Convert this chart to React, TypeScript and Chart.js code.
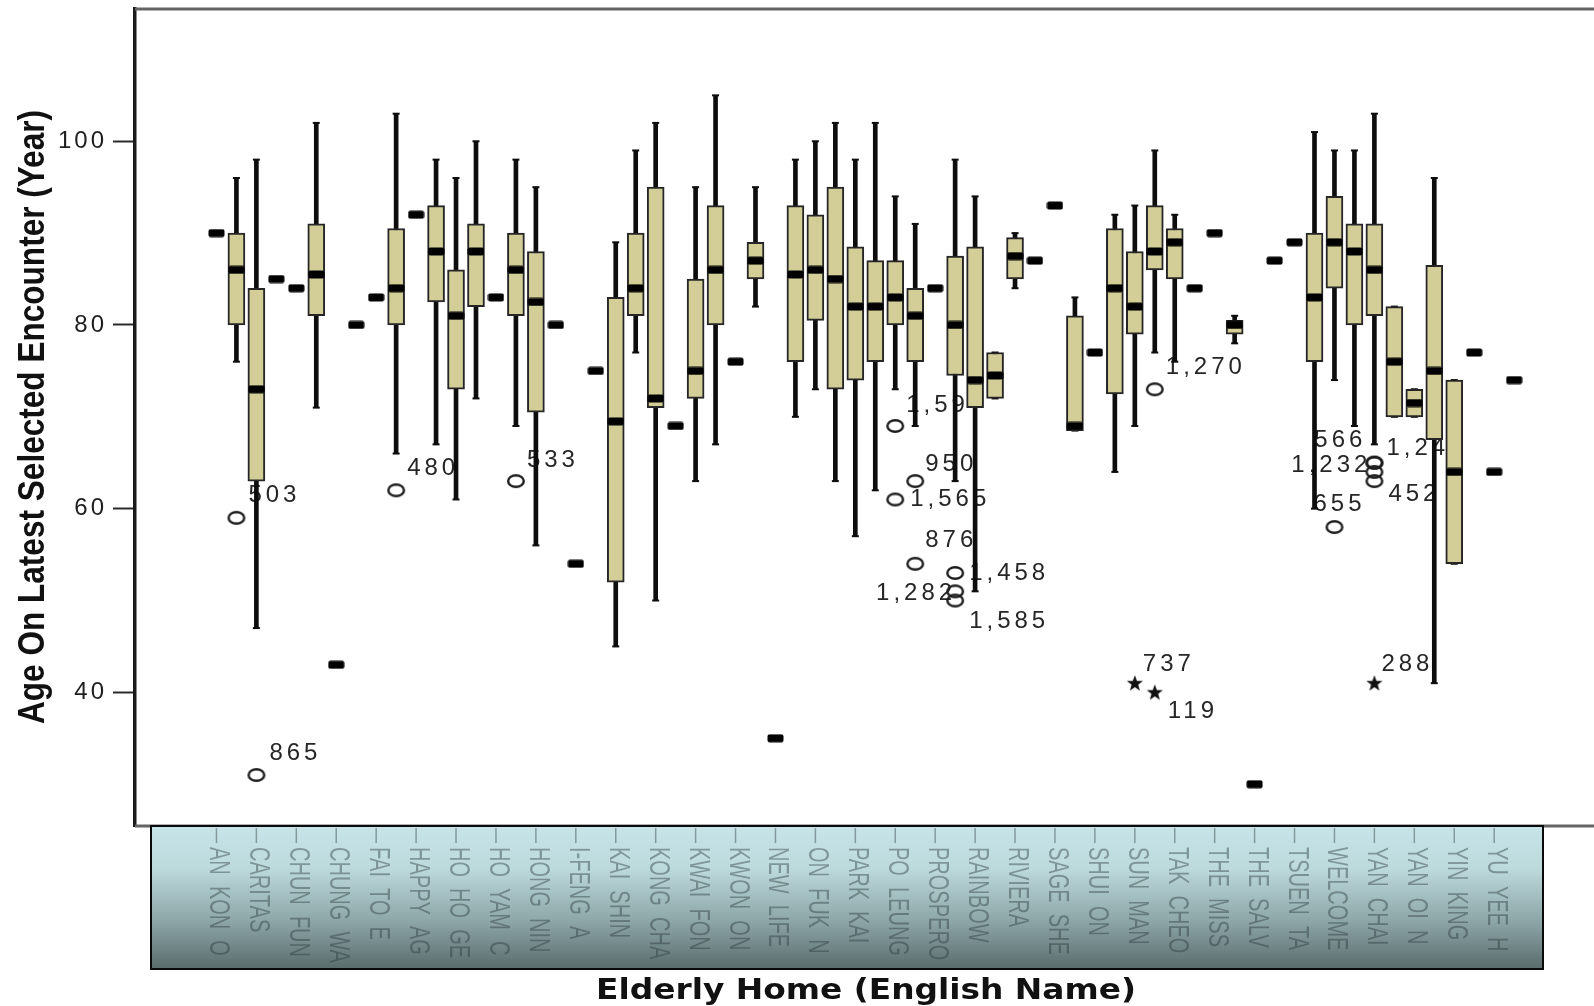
import { useEffect, useRef } from "react";
import { Chart, registerables } from "chart.js";

Chart.register(...registerables);

// 66 elderly homes; the source prints only every other name on the axis (unprinted names left blank)
const homeNames: string[] = [
  "AN KON O", "", "CARITAS", "", "CHUN FUN", "", "CHUNG WA", "", "FAI TO E", "",
  "HAPPY AG", "", "HO HO GE", "", "HO YAM C", "", "HONG NIN", "", "I-FENG A", "",
  "KAI SHIN", "", "KONG CHA", "", "KWAI FON", "", "KWON ON", "", "NEW LIFE", "",
  "ON FUK N", "", "PARK KAI", "", "PO LEUNG", "", "PROSPERO", "", "RAINBOW", "",
  "RIVIERA", "", "SAGE SHE", "", "SHUI ON", "", "SUN MAN", "", "TAK CHEO", "",
  "THE MISS", "", "THE SALV", "", "TSUEN TA", "", "WELCOME", "", "YAN CHAI", "",
  "YAN OI N", "", "YIN KING", "", "YU YEE H", "",
];

const whiskerLow: number[] = [
  90, 76, 47, 85, 84, 71, 43, 80, 83, 66,
  92, 67, 61, 72, 83, 69, 56, 80, 54, 75,
  45, 77, 50, 69, 63, 67, 76, 82, 35, 70,
  73, 63, 57, 62, 73, 69, 84, 63, 51, 72,
  84, 87, 93, 68.5, 77, 64, 69, 77, 76, 84,
  90, 78, 30, 87, 89, 60, 74, 69, 67, 70,
  70, 41, 54, 77, 64, 74,
];
const quartile1: number[] = [
  90, 80, 63, 85, 84, 81, 43, 80, 83, 80,
  92, 82.5, 73, 82, 83, 81, 70.5, 80, 54, 75,
  52, 81, 71, 69, 72, 80, 76, 85, 35, 76,
  80.5, 73, 74, 76, 80, 76, 84, 74.5, 71, 72,
  85, 87, 93, 68.5, 77, 72.5, 79, 86, 85, 84,
  90, 79, 30, 87, 89, 76, 84, 80, 81, 70,
  70, 67.5, 54, 77, 64, 74,
];
const medians: number[] = [
  90, 86, 73, 85, 84, 85.5, 43, 80, 83, 84,
  92, 88, 81, 88, 83, 86, 82.5, 80, 54, 75,
  69.5, 84, 72, 69, 75, 86, 76, 87, 35, 85.5,
  86, 85, 82, 82, 83, 81, 84, 80, 74, 74.5,
  87.5, 87, 93, 69, 77, 84, 82, 88, 89, 84,
  90, 80, 30, 87, 89, 83, 89, 88, 86, 76,
  71.5, 75, 64, 77, 64, 74,
];
const quartile3: number[] = [
  90, 90, 84, 85, 84, 91, 43, 80, 83, 90.5,
  92, 93, 86, 91, 83, 90, 88, 80, 54, 75,
  83, 90, 95, 69, 85, 93, 76, 89, 35, 93,
  92, 95, 88.5, 87, 87, 84, 84, 87.5, 88.5, 77,
  89.5, 87, 93, 81, 77, 90.5, 88, 93, 90.5, 84,
  90, 80.5, 30, 87, 89, 90, 94, 91, 91, 82,
  73, 86.5, 74, 77, 64, 74,
];
const whiskerHigh: number[] = [
  90, 96, 98, 85, 84, 102, 43, 80, 83, 103,
  92, 98, 96, 100, 83, 98, 95, 80, 54, 75,
  89, 99, 102, 69, 95, 105, 76, 95, 35, 98,
  100, 102, 98, 102, 94, 91, 84, 98, 94, 77,
  90, 87, 93, 83, 77, 92, 93, 99, 92, 84,
  90, 81, 30, 87, 89, 101, 99, 99, 103, 82,
  73, 96, 74, 77, 64, 74,
];

// outliers (circles) and extremes (stars): home index, age, case label
const outlierHome: number[] = [1, 2, 9, 15, 34, 34, 35, 35, 37, 37, 37, 47, 56, 58, 58, 58, 58];
const outlierAge: number[] = [59, 31, 62, 63, 69, 61, 63, 54, 53, 51, 50, 73, 58, 65, 65, 64, 63];
const outlierCase: string[] = ["503", "865", "480", "533", "1,597", "1,565", "950", "876", "1,458", "1,282", "1,585", "1,270", "655", "566", "1,246", "1,232", "452"];

const extremeHome: number[] = [46, 47, 58];
const extremeAge: number[] = [41, 40, 41];
const extremeCase: string[] = ["737", "119", "288"];

const yTickValues: number[] = [40, 60, 80, 100];

const xTitle = "Elderly Home (English Name)";
const yTitle = "Age On Latest Selected Encounter (Year)";

// label placement (style only): pixel offset from the mark and text alignment
const outlierLabelPlacement: [number, number, CanvasTextAlign][] = [
  [12, -22, "left"], [13, -22, "left"], [11, -22, "left"], [11, -21, "left"],
  [11, -21, "left"], [15, 0, "left"], [10, -17, "left"], [10, -23, "left"],
  [14, 0, "left"], [1, 2, "right"], [14, 21, "left"], [11, -22, "left"],
  [-21, -23, "left"], [-8, -22, "right"], [12, -14, "left"], [-3, -7, "right"],
  [14, 13, "left"],
];
const extremeLabelPlacement: [number, number, CanvasTextAlign][] = [
  [8, -19, "left"], [13, 19, "left"], [7, -19, "left"],
];

function makeSprite(w: number, h: number, draw: (g: CanvasRenderingContext2D) => void) {
  const c = document.createElement("canvas");
  c.width = w;
  c.height = h;
  const g = c.getContext("2d")!;
  draw(g);
  return c;
}

const spssPlugin: any = {
  id: "spssDecor",
  beforeDraw(chart: any) {
    chart.ctx.letterSpacing = "3px";
  },
  beforeDatasetsDraw(chart: any) {
    const { ctx } = chart;
    const xs = chart.scales.x;
    const ys = chart.scales.y;
    ctx.save();
    ctx.letterSpacing = "4px";
    ctx.font = '24px "Liberation Sans", Arial, sans-serif';
    ctx.fillStyle = "#262626";
    ctx.textBaseline = "middle";
    const put = (cat: number, val: number, text: string, place: [number, number, CanvasTextAlign]) => {
      const px = xs.getPixelForValue(cat);
      const py = ys.getPixelForValue(val);
      ctx.textAlign = place[2];
      ctx.fillText(text, px + place[0], py + place[1]);
    };
    outlierHome.forEach((c, k) => put(c, outlierAge[k], outlierCase[k], outlierLabelPlacement[k]));
    extremeHome.forEach((c, k) => put(c, extremeAge[k], extremeCase[k], extremeLabelPlacement[k]));
    ctx.restore();
  },
  afterDraw(chart: any) {
    const { ctx, chartArea: ca } = chart;
    const xs = chart.scales.x;
    ctx.save();
    ctx.letterSpacing = "0px";

    // frame top/bottom
    ctx.strokeStyle = "#646464";
    ctx.lineWidth = 3;
    ctx.beginPath();
    ctx.moveTo(ca.left, ca.top);
    ctx.lineTo(ca.right, ca.top);
    ctx.moveTo(ca.left, ca.bottom);
    ctx.lineTo(ca.right, ca.bottom);
    ctx.stroke();

    // category band
    const bandL = 151, bandR = 1543, bandT = ca.bottom, bandB = 969;
    const grad = ctx.createLinearGradient(0, bandT, 0, bandB);
    grad.addColorStop(0, "#c7e5e8");
    grad.addColorStop(0.3, "#bcd9dc");
    grad.addColorStop(0.65, "#8fa8aa");
    grad.addColorStop(1, "#5a6c6c");
    ctx.fillStyle = grad;
    ctx.fillRect(bandL, bandT, bandR - bandL, bandB - bandT);
    ctx.strokeStyle = "#0a0a0a";
    ctx.lineWidth = 2;
    ctx.strokeRect(bandL, bandT, bandR - bandL, bandB - bandT);

    ctx.font = '29px "Liberation Sans", Arial, sans-serif';
    ctx.fillStyle = "rgba(40,56,58,0.42)";
    ctx.strokeStyle = "rgba(40,56,58,0.42)";
    ctx.lineWidth = 1.5;
    homeNames.forEach((name, i) => {
      if (!name) return;
      const px = xs.getPixelForValue(i);
      ctx.beginPath();
      ctx.moveTo(px, bandT + 2);
      ctx.lineTo(px, bandT + 17);
      ctx.stroke();
      ctx.save();
      ctx.translate(px + 2, bandT + 21);
      ctx.rotate(Math.PI / 2);
      ctx.scale(0.69, 1);
      (ctx as any).wordSpacing = "8px";
      ctx.textAlign = "left";
      ctx.textBaseline = "middle";
      ctx.fillText(name, 0, 0);
      ctx.restore();
    });

    // x title
    ctx.fillStyle = "#111";
    ctx.font = 'bold 28px "DejaVu Sans", sans-serif';
    ctx.textAlign = "center";
    ctx.textBaseline = "alphabetic";
    const wx = ctx.measureText(xTitle).width;
    ctx.save();
    ctx.translate(866, 999);
    ctx.scale(540 / wx, 1);
    ctx.fillText(xTitle, 0, 0);
    ctx.restore();

    // y title
    ctx.font = 'bold 36px "Liberation Sans", Arial, sans-serif';
    const wy = ctx.measureText(yTitle).width;
    ctx.save();
    ctx.translate(44, 417);
    ctx.rotate(-Math.PI / 2);
    ctx.scale(614 / wy, 1);
    ctx.fillText(yTitle, 0, 0);
    ctx.restore();

    ctx.restore();
  },
};

export default function App() {
  const ref = useRef<HTMLCanvasElement>(null);

  useEffect(() => {
    const canvas = ref.current;
    if (!canvas) return;

    const medianSprite = makeSprite(17, 9, (g) => {
      g.fillStyle = "#000";
      g.beginPath();
      (g as any).roundRect(0.5, 0.5, 16, 8, 2);
      g.fill();
    });
    const circleSprite = makeSprite(20, 16, (g) => {
      g.strokeStyle = "#1c1c1c";
      g.lineWidth = 2.4;
      g.beginPath();
      g.ellipse(10, 8, 7.8, 5.8, 0, 0, Math.PI * 2);
      g.stroke();
    });
    const starSprite = makeSprite(20, 20, (g) => {
      g.fillStyle = "#111";
      g.beginPath();
      for (let k = 0; k < 10; k++) {
        const r = k % 2 === 0 ? 8.5 : 3.5;
        const a = -Math.PI / 2 + (k * Math.PI) / 5;
        const px = 10 + r * Math.cos(a);
        const py = 10.5 + r * Math.sin(a);
        if (k === 0) g.moveTo(px, py);
        else g.lineTo(px, py);
      }
      g.closePath();
      g.fill();
    });

    const boxData = homeNames
      .map((_, i) => ({ x: i, y: [quartile1[i], quartile3[i]] }))
      .filter((d) => d.y[0] !== d.y[1]);
    const whiskerData = homeNames
      .map((_, i) => ({ x: i, y: [whiskerLow[i], whiskerHigh[i]] }))
      .filter((d) => d.y[0] !== d.y[1]);
    const capData: { x: number; y: number }[] = [];
    homeNames.forEach((_, i) => {
      if (whiskerLow[i] !== whiskerHigh[i]) {
        capData.push({ x: i, y: whiskerLow[i] });
        capData.push({ x: i, y: whiskerHigh[i] });
      }
    });
    const medianData = homeNames.map((_, i) => ({ x: i, y: medians[i] }));
    const outlierData = outlierHome.map((c, k) => ({ x: c, y: outlierAge[k] }));
    const extremeData = extremeHome.map((c, k) => ({ x: c, y: extremeAge[k] }));

    const chart = new Chart(canvas, {
      type: "scatter",
      data: {
        datasets: [
          {
            type: "bar",
            label: "whiskers",
            data: whiskerData as any,
            backgroundColor: "#0d0d0d",
            borderWidth: 0,
            barThickness: 4,
            maxBarThickness: 4,
            grouped: false,
            order: 4,
          } as any,
          {
            type: "scatter",
            label: "caps",
            data: capData,
            pointStyle: "line",
            pointRadius: 3.5,
            borderColor: "#0d0d0d",
            pointBorderColor: "#0d0d0d",
            pointBorderWidth: 2,
            order: 3,
          } as any,
          {
            type: "bar",
            label: "boxes",
            data: boxData as any,
            backgroundColor: "#d3ce98",
            borderColor: "#262626",
            borderWidth: 2,
            borderSkipped: false,
            barThickness: 17,
            maxBarThickness: 17,
            grouped: false,
            order: 2,
          } as any,
          {
            type: "scatter",
            label: "medians",
            data: medianData,
            pointStyle: medianSprite,
            pointRadius: 5,
            order: 1,
          } as any,
          {
            type: "scatter",
            label: "outliers",
            data: outlierData,
            pointStyle: circleSprite,
            pointRadius: 6,
            order: 0,
          } as any,
          {
            type: "scatter",
            label: "extremes",
            data: extremeData,
            pointStyle: starSprite,
            pointRadius: 6,
            order: 0,
          } as any,
        ],
      },
      options: {
        responsive: false,
        animation: false,
        devicePixelRatio: 1,
        events: [],
        layout: { autoPadding: false, padding: { top: 9, bottom: 180, left: 0, right: 0 } },
        plugins: {
          legend: { display: false },
          tooltip: { enabled: false },
        },
        scales: {
          x: {
            type: "linear",
            min: -4.08,
            max: 69,
            display: false,
            offset: false,
          },
          y: {
            type: "linear",
            min: 25.45,
            max: 114.4,
            afterBuildTicks: (s: any) => {
              s.ticks = yTickValues.map((v) => ({ value: v }));
            },
            afterFit: (s: any) => {
              s.width = 135;
              s.paddingTop = 0;
              s.paddingBottom = 0;
            },
            grid: {
              drawOnChartArea: false,
              drawTicks: true,
              tickLength: 22,
              tickWidth: 2,
              tickColor: "#2a2a2a",
              color: "#2a2a2a",
            },
            border: { display: true, color: "#1a1a1a", width: 3.5 },
            ticks: {
              font: { family: '"Liberation Sans", Arial, sans-serif', size: 24 },
              color: "#1e1e1e",
              padding: 6,
            },
          },
        },
      } as any,
      plugins: [spssPlugin],
    });

    return () => chart.destroy();
  }, []);

  return (
    <div
      style={{
        position: "fixed",
        left: 0,
        top: 0,
        width: 1594,
        height: 1006,
        background: "#fff",
        overflow: "hidden",
      }}
    >
      <canvas ref={ref} width={1594} height={1006} style={{ display: "block", width: 1594, height: 1006 }} />
    </div>
  );
}
